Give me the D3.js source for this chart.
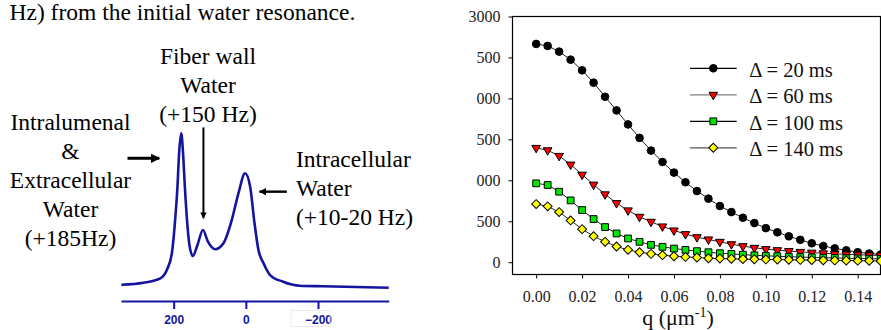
<!DOCTYPE html>
<html>
<head>
<meta charset="utf-8">
<script src="https://cdn.jsdelivr.net/npm/d3@7"></script>
<style>
  body { margin: 0; background: #fff; }
  svg { display: block; }
  .serif { font-family: "Liberation Serif", "Times New Roman", serif; }
</style>
</head>
<body>
<div id="chart"></div>
<script>
// ---- left panel: water spectrum (Hz vs intensity) ----
const specHz = [345, 284, 237, 219, 205, 196, 189.5, 185, 179, 174, 169, 163, 157, 147, 134, 119, 105, 85, 62, 39, 20.5, 2, -12, -23, -35, -48.8, -67.3, -103.3, -150, -214, -396];
const specInt = [1.9, 3.2, 6.1, 11.5, 22.3, 43.8, 65.4, 87, 100, 87, 65.4, 43.8, 28.8, 20.5, 27.7, 37.4, 29.8, 24.9, 28.8, 43.8, 61.1, 74.1, 65.4, 43.8, 24.4, 16, 8.2, 3.9, 1.3, 0.9, 0];
const specTicks = [200, 0, -200];

// ---- right panel: decay curves ----
const qValues = [0.000, 0.005, 0.010, 0.015, 0.020, 0.025, 0.030, 0.035, 0.040, 0.045,
                 0.050, 0.055, 0.060, 0.065, 0.070, 0.075, 0.080, 0.085, 0.090, 0.095,
                 0.100, 0.105, 0.110, 0.115, 0.120, 0.125, 0.130, 0.135, 0.140, 0.145, 0.150];
const delta20 = [2665, 2641, 2571, 2473, 2343, 2192, 2020, 1853, 1682, 1518, 1363, 1224, 1094, 976, 869, 776, 686, 612, 543, 478, 416, 365, 316, 273, 231, 198, 169, 145, 122, 106, 94];
const delta60 = [1396, 1367, 1298, 1192, 1069, 947, 829, 722, 633, 555, 494, 437, 388, 343, 306, 278, 249, 220, 196, 176, 160, 147, 136, 126, 117, 109, 102, 96, 91, 86, 82];
const delta100 = [963, 943, 861, 755, 637, 527, 429, 351, 290, 249, 212, 188, 167, 151, 135, 122, 110, 102, 92, 84, 78, 73, 67, 63, 59, 55, 52, 49, 46, 43, 40];
const delta140 = [710, 682, 612, 510, 404, 318, 249, 192, 151, 122, 102, 86, 73, 65, 57, 49, 45, 41, 38, 36, 34, 32, 30, 28, 26, 24, 22, 21, 19, 17, 15];
const seriesNames = ["\u0394 = 20 ms", "\u0394 = 60 ms", "\u0394 = 100 ms", "\u0394 = 140 ms"];
const xTicks = [0, 0.02, 0.04, 0.06, 0.08, 0.10, 0.12, 0.14];
const yTicks = [0, 500, 1000, 1500, 2000, 2500, 3000];
const yTickLabels = ["0", "500", "000", "500", "000", "500", "3000"];

const W = 881, H = 330;
const svg = d3.select("#chart").append("svg")
  .attr("width", W).attr("height", H);
svg.append("rect").attr("width", W).attr("height", H).attr("fill", "#fff");

/* ---------- left panel ---------- */
const blue = "#1414a0";
const hx = d3.scaleLinear().domain([346, -396]).range([121, 388.7]);
const hy = d3.scaleLinear().domain([0, 100]).range([287.7, 133.3]);

svg.append("text").attr("class", "serif")
  .attr("x", 9.5).attr("y", 19.5)
  .style("font-size", "23.5px")
  .text("Hz) from the initial water resonance.");

const specLine = d3.line()
  .x((d, i) => hx(specHz[i]))
  .y(d => hy(d))
  .curve(d3.curveMonotoneX);

svg.append("path")
  .attr("d", specLine(specInt))
  .attr("fill", "none")
  .attr("stroke", blue)
  .attr("stroke-width", 2.6);

const hAxis = svg.append("g")
  .attr("transform", "translate(0,301)")
  .attr("font-family", "'Liberation Sans', Arial, sans-serif")
  .attr("font-size", 12)
  .attr("font-weight", "bold")
  .call(d3.axisBottom(hx).tickValues(specTicks).tickSize(8).tickSizeOuter(0).tickPadding(6));
hAxis.attr("font-family", "'Liberation Sans', Arial, sans-serif").attr("font-size", 12);
hAxis.select(".domain").attr("stroke", blue).attr("stroke-width", 2);
hAxis.selectAll(".tick line").attr("stroke", blue).attr("stroke-width", 2);
hAxis.selectAll(".tick text").attr("fill", blue);

// faint box around the -200 label
svg.append("rect")
  .attr("x", hx(-200) - 27).attr("y", 310.5)
  .attr("width", 39).attr("height", 16)
  .attr("fill", "none").attr("stroke", "#ececec");

// arrows (positions in spectrum units)
const arrows = [
  { x1: 328, y1: 83.8, x2: 240, y2: 83.8, w: 3 },
  { x1: 117.5, y1: 103.8, x2: 117.5, y2: 45, w: 2 },
  { x1: -113.6, y1: 62.2, x2: -37.7, y2: 62.2, w: 2.4 }
];
svg.append("defs").append("marker")
  .attr("id", "head")
  .attr("viewBox", "0 0 10 10")
  .attr("refX", 9).attr("refY", 5)
  .attr("markerWidth", 3.2).attr("markerHeight", 3.2)
  .attr("markerUnits", "strokeWidth")
  .attr("orient", "auto")
  .append("path").attr("d", "M0,0L10,5L0,10Z").attr("fill", "#000");

svg.selectAll(".arrow").data(arrows).enter().append("line")
  .attr("class", "arrow")
  .attr("x1", d => hx(d.x1)).attr("y1", d => hy(d.y1))
  .attr("x2", d => hx(d.x2)).attr("y2", d => hy(d.y2))
  .attr("stroke", "#000").attr("stroke-width", d => d.w)
  .attr("marker-end", "url(#head)");

const labels = [
  { x: 70.5, y: 130, anchor: "middle", lines: ["Intralumenal", "&", "Extracellular", "Water", "(+185Hz)"] },
  { x: 208, y: 64.3, anchor: "middle", lines: ["Fiber wall", "Water", "(+150 Hz)"] },
  { x: 296, y: 166.7, anchor: "start", lines: ["Intracellular", "Water", "(+10-20 Hz)"] }
];
labels.forEach(l => {
  svg.append("text").attr("class", "serif")
    .attr("text-anchor", l.anchor)
    .style("font-size", "23.5px")
    .selectAll("tspan").data(l.lines).enter().append("tspan")
    .attr("x", l.x)
    .attr("y", (d, i) => l.y + i * 29)
    .text(d => d);
});

/* ---------- right panel ---------- */
const x = d3.scaleLinear().domain([-0.0103, 0.15]).range([512.5, 880.7]);
const y = d3.scaleLinear().domain([-150, 3000]).range([274.5, 16.5]);

const xAxis = svg.append("g")
  .attr("transform", "translate(0,274.5)")
  .call(d3.axisBottom(x).tickValues(xTicks).tickFormat(d3.format(".2f")).tickSize(4).tickPadding(12));
const yAxis = svg.append("g")
  .attr("transform", "translate(512.5,0)")
  .call(d3.axisLeft(y).tickValues(yTicks).tickFormat((d, i) => yTickLabels[i]).tickSize(4).tickPadding(8));
[xAxis, yAxis].forEach(a => {
  a.attr("font-family", "'Liberation Serif', 'Times New Roman', serif").attr("font-size", 16);
  a.select(".domain").remove();
  a.selectAll(".tick line").attr("stroke", "#000");
  a.selectAll(".tick text").attr("fill", "#222");
});

svg.append("rect")
  .attr("x", 512.5).attr("y", 16.5)
  .attr("width", 880.5 - 512.5).attr("height", 274.5 - 16.5)
  .attr("fill", "none").attr("stroke", "#000").attr("stroke-width", 1.2);

const axTitle = svg.append("text").attr("class", "serif")
  .attr("x", 678).attr("y", 325)
  .attr("text-anchor", "middle")
  .style("font-size", "22px")
  .attr("fill", "#111");
axTitle.append("tspan").text("q (\u03bcm");
axTitle.append("tspan").attr("dy", -8).style("font-size", "14px").text("-1");
axTitle.append("tspan").attr("dy", 8).text(")");

const styles = [
  { fill: "#000", sym: d3.symbolCircle, size: 46, rot: 0, legendLine: "#000" },
  { fill: "#ff0000", sym: d3.symbolTriangle, size: 32, rot: 180, legendLine: "#808080" },
  { fill: "#00e600", sym: d3.symbolSquare, size: 46, rot: 0, legendLine: "#000" },
  { fill: "#ffff00", sym: d3.symbolSquare, size: 40, rot: 45, legendLine: "#555" }
];
const allSeries = [delta20, delta60, delta100, delta140];

const curve = d3.line()
  .x((d, i) => x(qValues[i]))
  .y(d => y(d));

allSeries.forEach((vals, s) => {
  const st = styles[s];
  svg.append("path")
    .attr("d", curve(vals))
    .attr("fill", "none")
    .attr("stroke", "#222")
    .attr("stroke-width", 1);
  svg.append("g").selectAll("path").data(vals).enter().append("path")
    .attr("d", d3.symbol().type(st.sym).size(st.size))
    .attr("transform", (d, i) => `translate(${x(qValues[i])},${y(d)}) rotate(${st.rot})`)
    .attr("fill", st.fill)
    .attr("stroke", "#000")
    .attr("stroke-width", 1);
});

// legend
const legend = svg.append("g").selectAll("g").data(seriesNames).enter().append("g")
  .attr("transform", (d, i) => `translate(0,${68.3 + i * 26.5})`);
legend.append("line")
  .attr("x1", 690).attr("x2", 736.7)
  .attr("stroke", (d, i) => styles[i].legendLine)
  .attr("stroke-width", 1.3);
legend.append("path")
  .attr("d", (d, i) => d3.symbol().type(styles[i].sym).size(styles[i].size)())
  .attr("transform", (d, i) => `translate(713.3,0) rotate(${styles[i].rot})`)
  .attr("fill", (d, i) => styles[i].fill)
  .attr("stroke", "#000");
legend.append("text").attr("class", "serif")
  .attr("x", 749.3).attr("y", 8.4)
  .style("font-size", "20.5px")
  .attr("fill", "#111")
  .text(d => d);
</script>
</body>
</html>
